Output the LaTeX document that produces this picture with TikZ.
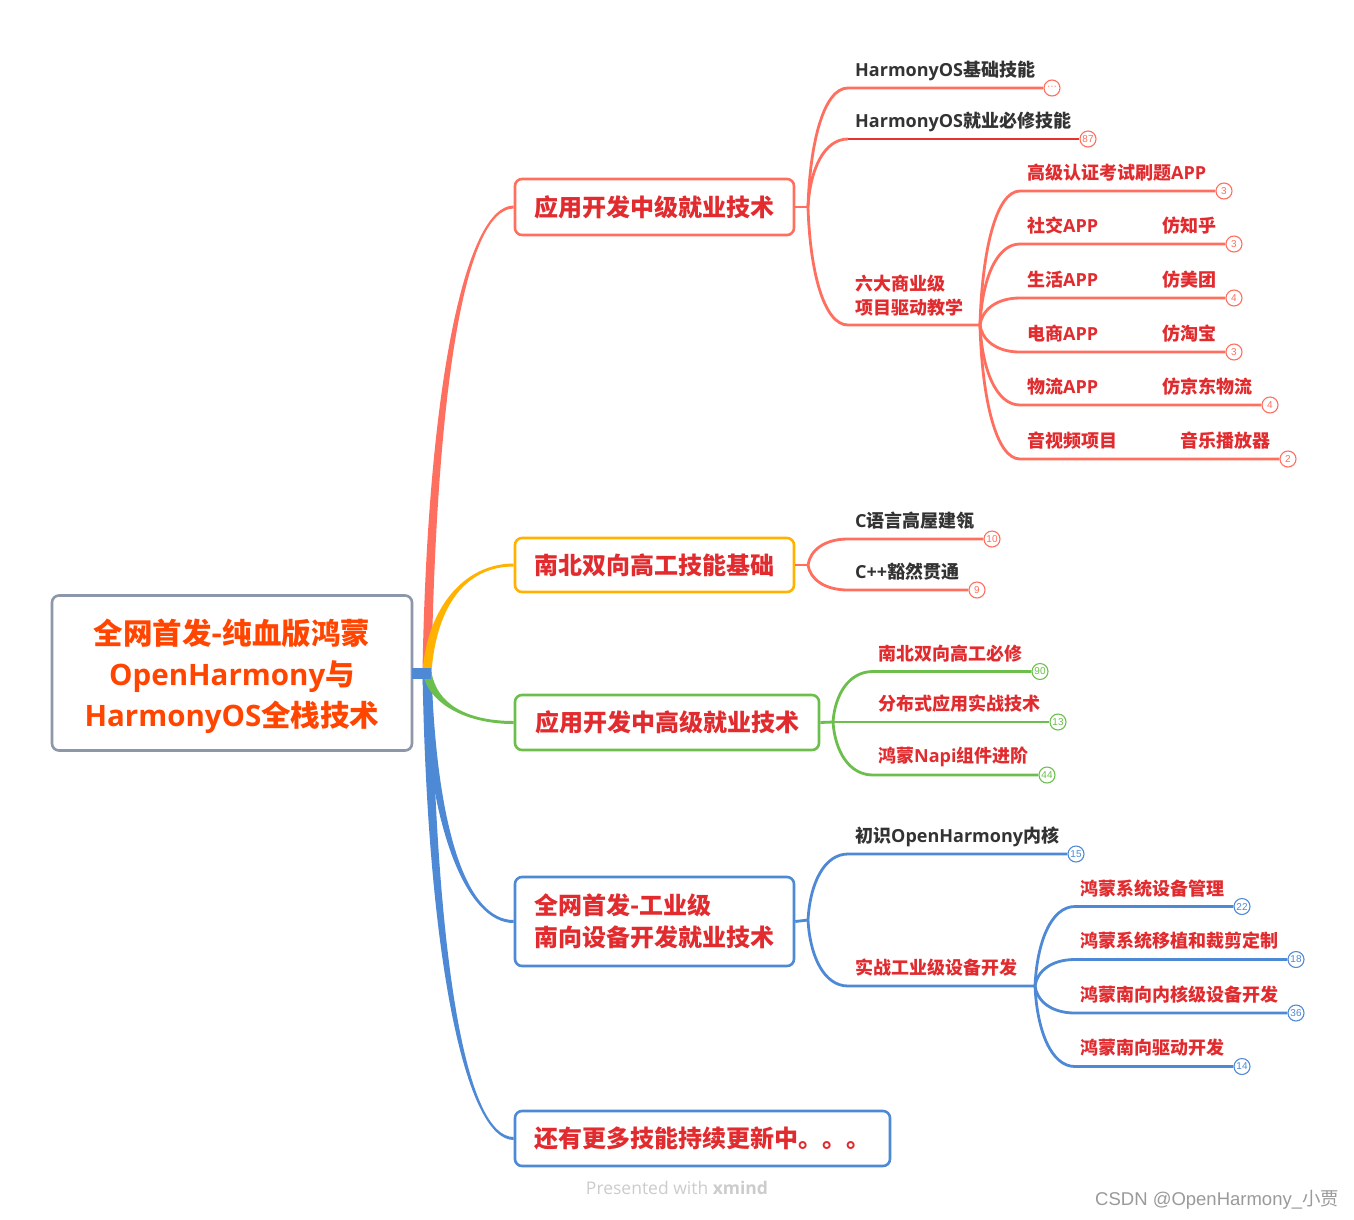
\documentclass[tikz,border=0pt]{standalone}
\usepackage{fontspec}
\setmainfont{Noto Sans CJK SC}
\newfontfamily\latf{Open Sans}
\newfontfamily\arialf{Liberation Sans}
\usetikzlibrary{calc}
\pgfdeclarelayer{bg}
\pgfsetlayers{bg,main}
\newcommand\latw[1]{{\latf #1}}
\definecolor{cSal}{HTML}{FF6F5F}
\definecolor{cOra}{HTML}{FFB300}
\definecolor{cGrn}{HTML}{6CBF4C}
\definecolor{cBlu}{HTML}{4E89D6}
\definecolor{cGry}{HTML}{8C97A9}
\definecolor{cRed}{HTML}{E12B2E}
\definecolor{cRoot}{HTML}{FF4500}
\definecolor{cDark}{HTML}{333333}
\definecolor{cDeep}{HTML}{E63230}
\definecolor{cWm}{HTML}{CCCCCC}
\definecolor{cCsdn}{HTML}{9A9A9A}
% tapered main branch: color, end point, sign (+1 up, -1 down)
\newcommand\mainbr[3]{%
  \fill[#1] let \p1=(rootout), \p2=(#2), \n1={#3} in
    ({\x1-4.5pt},\y1) .. controls ({\x1+0.5pt},{\y1+0.62*(\y2-\y1)}) and ({\x2-48pt},{\y2+(\n1)*1.5pt}) .. ({\x2},{\y2+(\n1)*1.5pt})
    -- ({\x2},{\y2-(\n1)*1.5pt}) .. controls ({\x2-48pt},{\y2-(\n1)*1.5pt}) and ({\x1+9.5pt},{\y1+0.62*(\y2-\y1)}) .. ({\x1+4.5pt},\y1) -- cycle;}
% sub connector: style, junction, curve end, line end
\newcommand\conn[4]{%
  \draw[#1] let \p1=(#2), \p2=(#3) in (\p1) .. controls ({\x1+0.05*(\x2-\x1)},{\y2+0.45*(\y1-\y2)}) and ({\x1+0.4*(\x2-\x1)},\y2) .. (\p2) -- (#4);}
\begin{document}
\begin{tikzpicture}[x=1pt,y=-1pt,
  box/.style={draw=#1, line width=2.6, rounded corners=7, fill=white, inner sep=0, text=cRed, font=\bfseries\fontsize{24}{32}\selectfont},
  l2/.style={line width=2.8},
  t2/.style={anchor=base west, inner sep=0, font=\bfseries\fontsize{18}{24}\selectfont},
  badge/.style={circle, draw=#1, text=#1, fill=white, line width=1.1, minimum size=16, inner sep=0, font=\arialf\fontsize{10}{10}\selectfont}]
\useasboundingbox (0,0) rectangle (1354,1219);
\begin{pgfonlayer}{bg}
\fill[white] (0,0) rectangle (1354,1219);
\end{pgfonlayer}

% ---------- root and main boxes ----------
\node[box=cGry, minimum width=360, minimum height=155] (root) at (232,673) {};
\node[text=cRoot, align=center, inner sep=0,
      font=\bfseries\fontsize{29.5}{41}\selectfont] (roottext) at (232,676.5)
  {全网首发-纯血版鸿蒙\\\latw{OpenHarmony}与\\\latw{HarmonyOS}全栈技术};
\coordinate (rootout) at (427,672);
\node[box=cSal, minimum width=279, minimum height=56] (b1) at (654.5,207) {应用开发中级就业技术};
\node[box=cOra, minimum width=279, minimum height=54] (b2) at (654.5,565) {南北双向高工技能基础};
\node[box=cGrn, minimum width=304, minimum height=55] (b3) at (667,722.5) {应用开发中高级就业技术};
\node[box=cBlu, minimum width=279, minimum height=89, align=left] (b4) at (654.5,921.5) {全网首发-工业级\\南向设备开发就业技术};
\node[box=cBlu, minimum width=375, minimum height=55] (b5) at (702.5,1138.5) {还有更多技能持续更新中。。。};

\begin{pgfonlayer}{bg}
\mainbr{cBlu}{b5.west}{-1}
\mainbr{cBlu}{b4.west}{-1}
\mainbr{cGrn}{b3.west}{-1}
\mainbr{cSal}{b1.west}{1}
\mainbr{cOra}{b2.west}{1}
\end{pgfonlayer}
\fill[cBlu] (412,667.5) rectangle (431,678.5);

% ---------- branch 1 ----------
\coordinate (j1) at (808,207);
\draw[l2,cSal] (b1.east) -- (j1);
\node[badge=cSal] (n11) at (1052,88) {···};
\node[badge=cSal] (n12) at (1088,139) {87};
\coordinate (u11) at (848,88);
\coordinate (u12) at (848,139);
\coordinate (u13) at (848,325);
\coordinate (j13) at (980,325);
\conn{l2,cSal}{j1}{u11}{n11.west}
\conn{l2,cSal}{j1}{u12}{u12}
\draw[l2,cDeep] (u12) -- (n12.west);
\conn{l2,cSal}{j1}{u13}{j13}
\node[t2,text=cDark] (t11) at (855,76.5) {\latw{HarmonyOS}基础技能};
\node[t2,text=cDark] (t12) at (855,127.5) {\latw{HarmonyOS}就业必修技能};
\node[t2,text=cRed] (t13a) at (855,290) {六大商业级};
\node[t2,text=cRed] (t13b) at (855,314) {项目驱动教学};

\node[badge=cSal] (n31) at (1224,191) {3};
\node[badge=cSal] (n32) at (1234,244) {3};
\node[badge=cSal] (n33) at (1234,298) {4};
\node[badge=cSal] (n34) at (1234,352) {3};
\node[badge=cSal] (n35) at (1270,405) {4};
\node[badge=cSal] (n36) at (1288,459) {2};
\coordinate (u31) at (1020,191);
\coordinate (u32) at (1020,244);
\coordinate (u33) at (1020,298);
\coordinate (u34) at (1020,352);
\coordinate (u35) at (1020,405);
\coordinate (u36) at (1020,459);
\conn{l2,cSal}{j13}{u31}{n31.west}
\conn{l2,cSal}{j13}{u32}{n32.west}
\conn{l2,cSal}{j13}{u33}{n33.west}
\conn{l2,cSal}{j13}{u34}{n34.west}
\conn{l2,cSal}{j13}{u35}{n35.west}
\conn{l2,cSal}{j13}{u36}{n36.west}
\node[t2,text=cRed] (r1) at (1027,179.5) {高级认证考试刷题\latw{APP}};
\node[t2,text=cRed] (r2a) at (1027,232.5) {社交\latw{APP}};
\node[t2,text=cRed] (r2b) at (1162,232.5) {仿知乎};
\node[t2,text=cRed] (r3a) at (1027,286.5) {生活\latw{APP}};
\node[t2,text=cRed] (r3b) at (1162,286.5) {仿美团};
\node[t2,text=cRed] (r4a) at (1027,340.5) {电商\latw{APP}};
\node[t2,text=cRed] (r4b) at (1162,340.5) {仿淘宝};
\node[t2,text=cRed] (r5a) at (1027,393.5) {物流\latw{APP}};
\node[t2,text=cRed] (r5b) at (1162,393.5) {仿京东物流};
\node[t2,text=cRed] (r6a) at (1027,447.5) {音视频项目};
\node[t2,text=cRed] (r6b) at (1180,447.5) {音乐播放器};

% ---------- branch 2 ----------
\coordinate (j2) at (808,565);
\draw[l2,cSal] (b2.east) -- (j2);
\node[badge=cSal] (n21) at (992,539) {10};
\node[badge=cSal] (n22) at (977,590) {9};
\coordinate (u21) at (848,539);
\coordinate (u22) at (848,590);
\conn{l2,cSal}{j2}{u21}{n21.west}
\conn{l2,cSal}{j2}{u22}{n22.west}
\node[t2,text=cDark] (t21) at (855,527.5) {\latw{C}语言高屋建瓴};
\node[t2,text=cDark] (t22) at (855,578.5) {\latw{C++}豁然贯通};

% ---------- branch 3 ----------
\coordinate (j3) at (833,722);
\draw[l2,cGrn] (b3.east) -- (j3);
\node[badge=cGrn] (g1) at (1040,671.5) {90};
\node[badge=cGrn] (g2) at (1058,722) {13};
\node[badge=cGrn] (g3) at (1047,775) {44};
\coordinate (ug1) at (873,671.5);
\coordinate (ug3) at (873,775);
\conn{l2,cGrn}{j3}{ug1}{g1.west}
\draw[l2,cGrn] (j3) -- (g2.west);
\conn{l2,cGrn}{j3}{ug3}{g3.west}
\node[t2,text=cRed] (tg1) at (878,660) {南北双向高工必修};
\node[t2,text=cRed] (tg2) at (878,710.5) {分布式应用实战技术};
\node[t2,text=cRed] (tg3) at (878,762.5) {鸿蒙\latw{Napi}组件进阶};

% ---------- branch 4 ----------
\coordinate (j4) at (808,920);
\draw[l2,cBlu] (b4.east) -- (j4);
\node[badge=cBlu] (n41) at (1076,854) {15};
\coordinate (u41) at (848,854);
\coordinate (u42) at (848,986);
\coordinate (j5) at (1035,986);
\conn{l2,cBlu}{j4}{u41}{n41.west}
\conn{l2,cBlu}{j4}{u42}{j5}
\node[t2,text=cDark] (t41) at (855,842.5) {初识\latw{OpenHarmony}内核};
\node[t2,text=cRed] (t42) at (855,974.5) {实战工业级设备开发};

\node[badge=cBlu] (n51) at (1242,906.5) {22};
\node[badge=cBlu] (n52) at (1296,959.5) {18};
\node[badge=cBlu] (n53) at (1296,1013) {36};
\node[badge=cBlu] (n54) at (1242,1066.5) {14};
\coordinate (u51) at (1075,906.5);
\coordinate (u52) at (1075,959.5);
\coordinate (u53) at (1075,1013);
\coordinate (u54) at (1075,1066.5);
\conn{l2,cBlu}{j5}{u51}{n51.west}
\conn{l2,cBlu}{j5}{u52}{n52.west}
\conn{l2,cBlu}{j5}{u53}{n53.west}
\conn{l2,cBlu}{j5}{u54}{n54.west}
\node[t2,text=cRed] (t51) at (1080,895) {鸿蒙系统设备管理};
\node[t2,text=cRed] (t52) at (1080,947.5) {鸿蒙系统移植和裁剪定制};
\node[t2,text=cRed] (t53) at (1080,1001.5) {鸿蒙南向内核级设备开发};
\node[t2,text=cRed] (t54) at (1080,1054.5) {鸿蒙南向驱动开发};

% ---------- watermarks ----------
\node[text=cWm, font=\latf\fontsize{17.5}{17.5}\selectfont, inner sep=0] (wm) at (677,1188) {Presented with \textbf{xmind}};
\node[anchor=west, text=cCsdn, font=\arialf\fontsize{18.5}{18.5}\selectfont, inner sep=0] (csdn) at (1095,1199.5) {CSDN @OpenHarmony\_{\normalfont 小贾}};
\end{tikzpicture}
\end{document}
